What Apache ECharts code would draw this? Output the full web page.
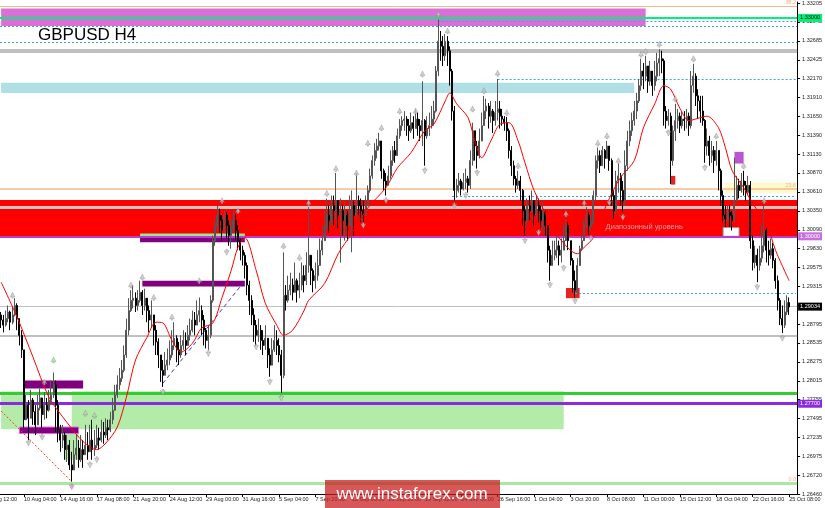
<!DOCTYPE html>
<html><head><meta charset="utf-8">
<script src="https://cdn.jsdelivr.net/npm/echarts@6/dist/echarts.min.js"></script>
<style>html,body{margin:0;padding:0;background:#fff}#c{width:825px;height:508px}</style>
</head><body><div id="c"></div>
<script>
// ---------- axis ticks ----------
const leftCutLabel = '7 Aug 12:00';
const xTickLabels = ['10 Aug 04:00','14 Aug 16:00','17 Aug 08:00','21 Aug 20:00','24 Aug 12:00','29 Aug 00:00','31 Aug 16:00','5 Sep 04:00','7 Sep 20:00','12 Sep 08:00','16 Sep 20:00','19 Sep 12:00','24 Sep 00:00','26 Sep 16:00','1 Oct 04:00','3 Oct 20:00','8 Oct 08:00','11 Oct 00:00','15 Oct 12:00','18 Oct 04:00','22 Oct 16:00','25 Oct 08:00'];
const firstTickBar = 10, barsPerTick = 16;
const yTickValues = [1.33205,1.32945,1.32685,1.32425,1.32170,1.31910,1.31650,1.31390,1.31130,1.30870,1.30610,1.30350,1.30090,1.29830,1.29575,1.29315,1.29055,1.28795,1.28535,1.28275,1.28015,1.27755,1.27495,1.27235,1.26975,1.26720,1.26460];

// ---------- H4 candles (close / high / low), open = previous close ----------
const firstOpen = 1.2892;
const closes = [
1.2885,1.2878,1.2887,1.2896,1.2882,1.2892,1.2905,1.2887,1.2864,1.2844,
1.2748,1.2768,1.2750,1.2775,1.2759,1.2741,1.2764,1.2778,1.2755,1.2768,
1.2761,1.2775,1.2782,1.2796,1.2768,1.2734,1.2720,1.2727,1.2707,1.2713,
1.2686,1.2679,1.2700,1.2709,1.2693,1.2707,1.2700,1.2713,1.2704,1.2720,
1.2707,1.2713,1.2723,1.2720,1.2731,1.2727,1.2737,1.2734,1.2748,1.2761,
1.2782,1.2796,1.2805,1.2816,1.2837,1.2871,1.2898,1.2912,1.2915,1.2905,
1.2912,1.2923,1.2905,1.2915,1.2898,1.2885,1.2892,1.2871,1.2855,1.2837,
1.2816,1.2809,1.2823,1.2830,1.2837,1.2850,1.2860,1.2844,1.2837,1.2850,
1.2857,1.2850,1.2864,1.2871,1.2885,1.2878,1.2892,1.2898,1.2885,1.2871,
1.2857,1.2864,1.2912,1.2994,1.3015,1.3029,1.3022,1.3008,1.3029,1.3015,
1.3001,1.3011,1.3022,1.3008,1.2994,1.2981,1.2974,1.2960,1.2933,1.2912,
1.2892,1.2878,1.2864,1.2871,1.2857,1.2850,1.2860,1.2837,1.2823,1.2844,
1.2857,1.2850,1.2837,1.2809,1.2919,1.2912,1.2926,1.2933,1.2923,1.2939,
1.2926,1.2933,1.2946,1.2939,1.2960,1.2974,1.2953,1.2939,1.2946,1.2960,
1.2981,1.2994,1.3015,1.3029,1.3022,1.3042,1.3035,1.3049,1.3029,1.3035,
1.3022,1.3029,1.3015,1.3035,1.3042,1.3029,1.3049,1.3042,1.3035,1.3029,
1.3042,1.3063,1.3083,1.3104,1.3118,1.3124,1.3131,1.3090,1.3076,1.3070,
1.3083,1.3104,1.3118,1.3111,1.3138,1.3152,1.3159,1.3161,1.3152,1.3145,
1.3156,1.3148,1.3161,1.3152,1.3145,1.3159,1.3138,1.3148,1.3152,1.3161,
1.3172,1.3227,1.3268,1.3261,1.3248,1.3268,1.3255,1.3227,1.3172,1.3063,
1.3070,1.3076,1.3065,1.3074,1.3079,1.3070,1.3104,1.3145,1.3124,1.3111,
1.3131,1.3152,1.3172,1.3179,1.3165,1.3172,1.3159,1.3170,1.3175,1.3165,
1.3161,1.3156,1.3145,1.3118,1.3097,1.3079,1.3070,1.3076,1.3063,1.3035,
1.3022,1.3042,1.3035,1.3049,1.3029,1.3042,1.3035,1.3022,1.3033,1.3015,
1.2981,1.2960,1.2974,1.2981,1.2987,1.2974,1.2981,1.2994,1.3015,1.2994,
1.2967,1.2939,1.2926,1.2960,1.2983,1.2994,1.3015,1.3029,1.3015,1.3019,
1.3056,1.3104,1.3111,1.3097,1.3118,1.3107,1.3124,1.3104,1.3056,1.3035,
1.3076,1.3083,1.3063,1.3049,1.3097,1.3131,1.3145,1.3159,1.3172,1.3186,
1.3207,1.3227,1.3220,1.3234,1.3213,1.3227,1.3207,1.3220,1.3238,1.3244,
1.3241,1.3172,1.3159,1.3165,1.3104,1.3145,1.3159,1.3165,1.3152,1.3161,
1.3159,1.3165,1.3152,1.3207,1.3220,1.3193,1.3186,1.3172,1.3159,1.3124,
1.3131,1.3111,1.3118,1.3104,1.3118,1.3090,1.3056,1.3029,1.3024,1.3033,
1.3029,1.3022,1.3049,1.3070,1.3063,1.3076,1.3070,1.3060,1.3070,1.2994,
1.2964,1.2974,1.2960,1.2970,1.2987,1.3008,1.2981,1.2974,1.2983,1.2967,
1.2939,1.2912,1.2887,1.2878,1.2896,1.2909,1.2903];
const highs = [
1.2896,1.2892,1.2898,1.2905,1.2898,1.2904,1.2915,1.2908,1.2887,1.2871,
1.2844,1.2782,1.2775,1.2789,1.2778,1.2768,1.2782,1.2791,1.2775,1.2786,
1.2778,1.2789,1.2802,1.2813,1.2802,1.2775,1.2741,1.2741,1.2731,1.2727,
1.2720,1.2704,1.2720,1.2727,1.2720,1.2727,1.2720,1.2741,1.2731,1.2741,
1.2748,1.2734,1.2741,1.2737,1.2748,1.2745,1.2750,1.2748,1.2759,1.2778,
1.2796,1.2809,1.2819,1.2830,1.2850,1.2887,1.2915,1.2926,1.2933,1.2923,
1.2926,1.2939,1.2926,1.2928,1.2915,1.2905,1.2912,1.2892,1.2878,1.2860,
1.2837,1.2830,1.2841,1.2846,1.2857,1.2871,1.2882,1.2864,1.2855,1.2864,
1.2871,1.2868,1.2878,1.2887,1.2898,1.2896,1.2912,1.2916,1.2905,1.2892,
1.2874,1.2878,1.2919,1.3001,1.3024,1.3042,1.3038,1.3029,1.3035,1.3033,
1.3022,1.3024,1.3035,1.3031,1.3015,1.2997,1.2987,1.2978,1.2964,1.2939,
1.2919,1.2901,1.2885,1.2887,1.2878,1.2871,1.2878,1.2860,1.2846,1.2860,
1.2878,1.2871,1.2860,1.2844,1.2978,1.2933,1.2946,1.2950,1.2942,1.2964,
1.2942,1.2950,1.2964,1.2960,1.2978,1.3040,1.2970,1.2956,1.2964,1.2981,
1.2997,1.3015,1.3035,1.3052,1.3042,1.3056,1.3056,1.3087,1.3049,1.3052,
1.3042,1.3049,1.3035,1.3056,1.3063,1.3049,1.3087,1.3056,1.3052,1.3049,
1.3056,1.3070,1.3093,1.3111,1.3128,1.3134,1.3142,1.3131,1.3093,1.3087,
1.3097,1.3118,1.3124,1.3131,1.3148,1.3161,1.3165,1.3172,1.3165,1.3161,
1.3170,1.3165,1.3175,1.3170,1.3161,1.3213,1.3161,1.3165,1.3170,1.3179,
1.3186,1.3234,1.3298,1.3282,1.3275,1.3278,1.3275,1.3261,1.3230,1.3179,
1.3079,1.3087,1.3079,1.3087,1.3093,1.3083,1.3118,1.3156,1.3145,1.3131,
1.3148,1.3170,1.3193,1.3189,1.3183,1.3186,1.3175,1.3186,1.3216,1.3186,
1.3175,1.3165,1.3164,1.3148,1.3124,1.3104,1.3083,1.3090,1.3083,1.3065,
1.3042,1.3052,1.3056,1.3063,1.3049,1.3056,1.3052,1.3042,1.3049,1.3035,
1.3015,1.2987,1.2994,1.2994,1.3001,1.2994,1.2997,1.3015,1.3024,1.3019,
1.2994,1.2970,1.2953,1.2970,1.2987,1.3001,1.3022,1.3040,1.3033,1.3029,
1.3063,1.3111,1.3122,1.3118,1.3124,1.3120,1.3131,1.3124,1.3107,1.3063,
1.3090,1.3100,1.3087,1.3076,1.3118,1.3145,1.3159,1.3170,1.3186,1.3197,
1.3216,1.3244,1.3238,1.3248,1.3234,1.3241,1.3227,1.3241,1.3252,1.3257,
1.3255,1.3244,1.3179,1.3175,1.3170,1.3152,1.3182,1.3175,1.3170,1.3172,
1.3172,1.3175,1.3170,1.3227,1.3237,1.3224,1.3202,1.3193,1.3193,1.3161,
1.3148,1.3138,1.3131,1.3124,1.3131,1.3118,1.3093,1.3063,1.3042,1.3042,
1.3042,1.3035,1.3108,1.3083,1.3079,1.3087,1.3090,1.3076,1.3083,1.3076,
1.3001,1.2987,1.2983,1.2987,1.3015,1.3042,1.3011,1.2994,1.2997,1.2991,
1.2970,1.2946,1.2915,1.2905,1.2912,1.2919,1.2916];
const lows = [
1.2874,1.2868,1.2876,1.2882,1.2871,1.2879,1.2890,1.2871,1.2850,1.2833,
1.2737,1.2750,1.2720,1.2750,1.2741,1.2727,1.2748,1.2761,1.2737,1.2748,
1.2750,1.2759,1.2768,1.2778,1.2731,1.2717,1.2704,1.2709,1.2693,1.2690,
1.2679,1.2663,1.2686,1.2693,1.2682,1.2690,1.2682,1.2700,1.2693,1.2704,
1.2693,1.2698,1.2709,1.2707,1.2717,1.2715,1.2723,1.2720,1.2731,1.2742,
1.2768,1.2778,1.2789,1.2800,1.2813,1.2833,1.2864,1.2896,1.2901,1.2896,
1.2898,1.2909,1.2892,1.2898,1.2882,1.2868,1.2874,1.2850,1.2837,1.2819,
1.2800,1.2793,1.2809,1.2816,1.2823,1.2833,1.2844,1.2827,1.2823,1.2833,
1.2844,1.2837,1.2850,1.2857,1.2868,1.2864,1.2878,1.2882,1.2864,1.2850,
1.2846,1.2844,1.2860,1.2909,1.2987,1.3008,1.3005,1.2994,1.3005,1.2997,
1.2987,1.2983,1.3005,1.2994,1.2981,1.2967,1.2960,1.2942,1.2919,1.2892,
1.2878,1.2855,1.2850,1.2855,1.2844,1.2837,1.2844,1.2819,1.2807,1.2827,
1.2841,1.2837,1.2827,1.2785,1.2805,1.2898,1.2909,1.2919,1.2912,1.2923,
1.2909,1.2915,1.2926,1.2923,1.2933,1.2950,1.2933,1.2923,1.2928,1.2939,
1.2964,1.2974,1.2994,1.3008,1.3005,1.3015,1.3015,1.3024,1.3011,1.2964,
1.3001,1.2994,1.2994,1.3019,1.2978,1.3001,1.3024,1.3029,1.3019,1.3019,
1.3033,1.3042,1.3060,1.3079,1.3097,1.3107,1.3118,1.3079,1.3063,1.3056,
1.3070,1.3079,1.3097,1.3101,1.3118,1.3134,1.3145,1.3145,1.3138,1.3131,
1.3142,1.3134,1.3148,1.3138,1.3131,1.3124,1.3097,1.3134,1.3138,1.3148,
1.3152,1.3170,1.3220,1.3241,1.3234,1.3241,1.3234,1.3207,1.3159,1.3049,
1.3053,1.3060,1.3056,1.3063,1.3065,1.3060,1.3065,1.3097,1.3104,1.3093,
1.3107,1.3131,1.3152,1.3161,1.3148,1.3156,1.3142,1.3152,1.3159,1.3148,
1.3152,1.3145,1.3131,1.3107,1.3083,1.3070,1.3060,1.3065,1.3049,1.3015,
1.3001,1.3015,1.3022,1.3033,1.3015,1.3024,1.3019,1.3011,1.3005,1.3001,
1.2964,1.2939,1.2960,1.2967,1.2970,1.2960,1.2964,1.2981,1.2997,1.2981,
1.2960,1.2923,1.2916,1.2920,1.2964,1.2981,1.2997,1.3011,1.3002,1.3008,
1.3015,1.3049,1.3093,1.3087,1.3097,1.3093,1.3107,1.3090,1.3042,1.3024,
1.3029,1.3060,1.3042,1.3033,1.3042,1.3090,1.3124,1.3138,1.3152,1.3161,
1.3183,1.3200,1.3202,1.3213,1.3197,1.3207,1.3193,1.3200,1.3213,1.3220,
1.3224,1.3152,1.3148,1.3152,1.3072,1.3097,1.3131,1.3148,1.3142,1.3148,
1.3145,1.3148,1.3138,1.3148,1.3197,1.3179,1.3161,1.3156,1.3152,1.3101,
1.3111,1.3097,1.3101,1.3087,1.3097,1.3063,1.3042,1.3019,1.3013,1.3019,
1.3013,1.3008,1.3019,1.3049,1.3052,1.3060,1.3056,1.3049,1.3056,1.2983,
1.2953,1.2956,1.2937,1.2953,1.2964,1.2978,1.2964,1.2960,1.2969,1.2956,
1.2928,1.2898,1.2878,1.2867,1.2874,1.2892,1.2892];

// ---------- moving average (read at selected bars) ----------
const maBars = [0,7,14,21,29,36,42,46,51,55,59,64,68,71,75,79,84,88,93,97,101,104,107,112,116,121,124,128,133,135,142,148,154,161,169,174,180,186,190,195,197,200,205,208,211,215,219,223,227,230,234,240,245,253,256,260,266,272,278,282,287,291,294,298,302,307,310,315,318,321,326,330,336,340,346];
const maValues = [1.2937,1.2889,1.2834,1.2779,1.2744,1.2718,1.2707,1.2716,1.2738,1.2779,1.2830,1.2861,1.2882,1.2881,1.2857,1.2841,1.2853,1.2874,1.2881,1.2916,1.2953,1.2985,1.2998,1.2953,1.2908,1.2878,1.2864,1.2871,1.2898,1.2912,1.2935,1.2976,1.3004,1.3039,1.3067,1.3094,1.3115,1.3145,1.3154,1.3186,1.3197,1.3182,1.3163,1.3131,1.3108,1.3131,1.3154,1.3156,1.3131,1.3101,1.3063,1.3026,1.2998,1.2976,1.2985,1.2998,1.3045,1.3081,1.3104,1.3149,1.3182,1.3207,1.3202,1.3176,1.3159,1.3163,1.3165,1.3149,1.3122,1.3090,1.3067,1.3045,1.3018,1.2981,1.2939];

// ---------- fractal arrows [bar, price] ----------
const fractalUp = [[5,1.2919],[19,1.2800],[37,1.2757],[41,1.2754],[57,1.2933],[62,1.2944],[67,1.2916],[75,1.2889],[87,1.2939],[97,1.3049],[104,1.3035],[124,1.2987],[131,1.2971],[135,1.3046],[143,1.3059],[147,1.3093],[156,1.3087],[161,1.3128],[167,1.3149],[175,1.3172],[182,1.3172],[185,1.3223],[192,1.3305],[196,1.3282],[207,1.3175],[212,1.3200],[218,1.3224],[222,1.3170],[227,1.3097],[248,1.3031],[256,1.3046],[262,1.3128],[266,1.3138],[271,1.3104],[281,1.3250],[283,1.3254],[289,1.3264],[296,1.3189],[304,1.3244],[314,1.3138],[326,1.3097],[335,1.3049]];
const fractalUpGreen = [[23,1.2830]];
const fractalDown = [[12,1.2716],[18,1.2724],[39,1.2686],[42,1.2693],[71,1.2786],[91,1.2839],[99,1.2978],[112,1.2848],[118,1.2800],[123,1.2778],[159,1.3015],[169,1.3049],[186,1.3090],[199,1.3042],[204,1.3056],[209,1.3087],[230,1.2994],[236,1.3005],[241,1.2933],[247,1.2956],[252,1.2911],[259,1.2997],[267,1.3046],[273,1.3026],[293,1.3142],[309,1.3094],[332,1.2930],[343,1.2860]];
const fractalDownPink = [[31,1.2656]];

// ---------- drawn levels (prices) ----------
const fib382 = 1.3316, fib236 = 1.3065, fib000 = 1.2661;
const greenTop = 1.33000;
const rangeHigh = 1.3050, rangeLow = 1.30000, rangeGray = 1.3040;
const grayThick = 1.3255, grayLow = 1.2864, bidPrice = 1.29034;
const dotFull = [1.3289, 1.3267];
const dotPartial = [[1.3296, 192], [1.3216, 218], [1.3055, 198], [1.2922, 252]]; // [price, starting bar]
const greenLine = 1.2785, violetLine = 1.27700;
const rangeText = 'Диапозонный уровень';

// ---------- build ----------
const TOTAL = 350;
const END = TOTAL - 1;
const cats = new Array(TOTAL).fill('');
xTickLabels.forEach((t, k) => { cats[firstTickBar + k * barsPerTick] = t; });
const candles = new Array(TOTAL).fill('-');
closes.forEach((c, i) => {
  const o = i === 0 ? firstOpen : closes[i - 1];
  candles[i] = [o, c, lows[i], highs[i]];
});
const maData = maBars.map((b, k) => [b, maValues[k]]);

const axisLab = (txt, bg, fg) => ({show: true, position: 'end', formatter: txt, backgroundColor: bg, color: fg,
  fontSize: 5.5, fontFamily: 'Liberation Sans', padding: [1, 2, 1, 2], distance: 1});
const fibLab = txt => ({show: true, position: 'insideEndTop', formatter: txt, color: '#f4b183', fontSize: 5.5, distance: 1, fontFamily: 'Liberation Sans'});
const dotted = {color: '#3d9bff', width: 1, type: [2, 2]};
const ARROW_UP = 'path://M5,0 L10,8 L6.5,6.5 L6.5,10 L3.5,10 L3.5,6.5 L0,8 Z';
const ARROW_DN = 'path://M5,10 L10,2 L6.5,3.5 L6.5,0 L3.5,0 L3.5,3.5 L0,2 Z';

const areas = [
  [{xAxis: 0, yAxis: 1.3313, itemStyle: {color: '#da70d6'}}, {xAxis: 283, yAxis: 1.3289}],
  [{xAxis: 0, yAxis: 1.3211, itemStyle: {color: '#b0e0e6'}}, {xAxis: 278, yAxis: 1.3197}],
  [{xAxis: 318, yAxis: 1.3074, itemStyle: {color: '#fffacd'}}, {xAxis: END, yAxis: 1.3060}],
  [{yAxis: rangeHigh, itemStyle: {color: '#ff0000'}}, {yAxis: rangeLow}],
  [{xAxis: 0, yAxis: 1.2787, itemStyle: {color: '#b2eca8'}}, {xAxis: 10, yAxis: 1.2735}],
  [{xAxis: 31, yAxis: 1.2787, itemStyle: {color: '#b2eca8'}}, {xAxis: 247, yAxis: 1.2735}],
  [{xAxis: 28, yAxis: 1.2737, itemStyle: {color: '#b2eca8'}}, {xAxis: 34, yAxis: 1.2693}],
  [{xAxis: 10, yAxis: 1.2802, itemStyle: {color: '#800080'}}, {xAxis: 36, yAxis: 1.2791}],
  [{xAxis: 8, yAxis: 1.2738, itemStyle: {color: '#800080', borderColor: '#da70d6', borderWidth: 1}}, {xAxis: 34, yAxis: 1.2729}],
  [{xAxis: 61, yAxis: 1.3004, itemStyle: {color: '#90ee90'}}, {xAxis: 107, yAxis: 1.3000}],
  [{xAxis: 61, yAxis: 1.2999, itemStyle: {color: '#800080'}}, {xAxis: 107, yAxis: 1.2992}],
  [{xAxis: 62, yAxis: 1.2939, itemStyle: {color: '#800080'}}, {xAxis: 107, yAxis: 1.2931}],
  [{xAxis: 294, yAxis: 1.3083, itemStyle: {color: '#e8231f'}}, {xAxis: 296, yAxis: 1.3071}],
  [{xAxis: 248, yAxis: 1.2929, itemStyle: {color: '#e8231f'}}, {xAxis: 254, yAxis: 1.2915}],
  [{xAxis: 322, yAxis: 1.3116, itemStyle: {color: '#ba55d3'}}, {xAxis: 326, yAxis: 1.3100}],
  [{xAxis: 317, yAxis: 1.3012, itemStyle: {color: '#ffffff', borderColor: '#999', borderWidth: 1}}, {xAxis: 324, yAxis: 1.3000}]
];

const lines = [
  {yAxis: fib382, lineStyle: {color: '#f6b98a', width: 1, type: 'solid'}, label: fibLab('38.2')},
  {yAxis: greenTop, lineStyle: {color: '#00f07a', width: 2, type: 'solid'}, label: axisLab('1.33000', '#00f07a', '#000')},
  ...dotFull.map(p => ({yAxis: p, lineStyle: dotted})),
  {yAxis: grayThick, lineStyle: {color: '#c0c0c0', width: 4, type: 'solid'}},
  {yAxis: fib236, lineStyle: {color: '#f6b98a', width: 1.5, type: 'solid'}, label: fibLab('23.6')},
  {yAxis: rangeGray, lineStyle: {color: '#c8c8c8', width: 3, type: 'solid'}},
  {yAxis: rangeLow, lineStyle: {color: '#c03ad0', width: 2, type: 'solid'}, label: axisLab('1.30000', '#c86ee0', '#fff')},
  {yAxis: bidPrice, lineStyle: {color: '#c0c0c0', width: 1, type: 'solid'}, label: axisLab('1.29034', '#000', '#fff')},
  {yAxis: grayLow, lineStyle: {color: '#c0c0c0', width: 2, type: 'solid'}},
  {yAxis: greenLine, lineStyle: {color: '#33cc33', width: 3, type: 'solid'}},
  {yAxis: violetLine, lineStyle: {color: '#8a2be2', width: 3, type: 'solid'}, label: axisLab('1.27700', '#8a2be2', '#fff')},
  {yAxis: fib000, lineStyle: {color: '#a8e8a0', width: 3, type: 'solid'}, label: fibLab('0.0')},
  ...dotPartial.map(([p, b]) => [{coord: [b, p], lineStyle: dotted}, {coord: [END, p]}]),
  [{coord: [71, 1.2798], lineStyle: {color: '#3a3ae0', width: 1, type: [4, 3]}}, {coord: [106, 1.2935]}],
  [{coord: [0, 1.2760], lineStyle: {color: '#ff3030', width: 1, type: [2, 2]}}, {coord: [31, 1.2663]}]
];

const arrowSeries = (data, sym, color) => ({type: 'scatter', data, symbol: sym, symbolSize: [5, 6], z: 7, silent: true,
  itemStyle: {color, borderColor: '#777', borderWidth: 0.4}});

const chart = echarts.init(document.getElementById('c'), null, {renderer: 'canvas'});
chart.setOption({
  animation: false,
  backgroundColor: '#ffffff',
  grid: {left: 0, right: 24, top: 1, bottom: 14},
  xAxis: {
    type: 'category', data: cats, boundaryGap: true,
    axisLine: {show: true, lineStyle: {color: '#000', width: 1}},
    axisTick: {show: true, alignWithLabel: true, length: 3, interval: (i, v) => v !== '', lineStyle: {color: '#000'}},
    axisLabel: {show: true, interval: (i, v) => v !== '', align: 'left', margin: 2, fontSize: 5.5, color: '#222', fontFamily: 'Liberation Sans', hideOverlap: false},
    splitLine: {show: false}
  },
  yAxis: {
    type: 'value', position: 'right', min: 1.2646, max: 1.33219, scale: true,
    axisLine: {show: true, lineStyle: {color: '#000', width: 1}},
    axisTick: {show: true, length: 3, customValues: yTickValues, lineStyle: {color: '#000'}},
    axisLabel: {show: true, customValues: yTickValues, formatter: v => v.toFixed(5), margin: 5, fontSize: 5.5, color: '#222', fontFamily: 'Liberation Sans'},
    splitLine: {show: false}
  },
  series: [
    {type: 'line', data: [], z: 1, silent: true,
      markArea: {silent: true, data: areas}},
    {type: 'line', data: [], z: 2, silent: true,
      markLine: {silent: true, precision: 6, symbol: ['none', 'none'], label: {show: false}, data: lines},
      markPoint: {silent: true, data: [{coord: [263, 1.3013], symbol: 'rect', symbolSize: 1, itemStyle: {color: 'rgba(0,0,0,0)'},
        label: {show: true, position: 'right', formatter: rangeText, color: '#d9a0a0', fontSize: 7.5, fontFamily: 'Liberation Sans'}}]}},
    {type: 'candlestick', data: candles, z: 5, barWidth: 1.5, silent: true,
      itemStyle: {color: '#9a9a9a', color0: '#000000', borderColor: '#555555', borderColor0: '#000000', borderWidth: 1}},
    {type: 'line', data: maData, z: 6, silent: true, showSymbol: false, smooth: 0.3, connectNulls: true,
      lineStyle: {color: '#ff0000', width: 1}},
    arrowSeries(fractalUp, ARROW_UP, '#c8c8c8'),
    arrowSeries(fractalDown, ARROW_DN, '#c8c8c8'),
    arrowSeries(fractalUpGreen, ARROW_UP, '#90ee90'),
    arrowSeries(fractalDownPink, ARROW_DN, '#ee82ee')
  ],
  graphic: [
    {type: 'text', x: -12.6, y: 496, z: 50, style: {text: leftCutLabel, font: '5.5px "Liberation Sans"', fill: '#222'}},
    {type: 'text', x: 38, y: 27, z: 50, style: {text: 'GBPUSD H4', font: '17px "Liberation Sans"', fill: '#000'}},
    {type: 'rect', z: 100, shape: {x: 325, y: 480, width: 175, height: 28}, style: {fill: 'rgba(200,30,30,0.74)'}},
    {type: 'text', x: 412, y: 494, z: 101, style: {text: 'www.instaforex.com', font: '17px "Liberation Sans"', fill: '#fff', align: 'center', verticalAlign: 'middle'}}
  ]
});
</script></body></html>
